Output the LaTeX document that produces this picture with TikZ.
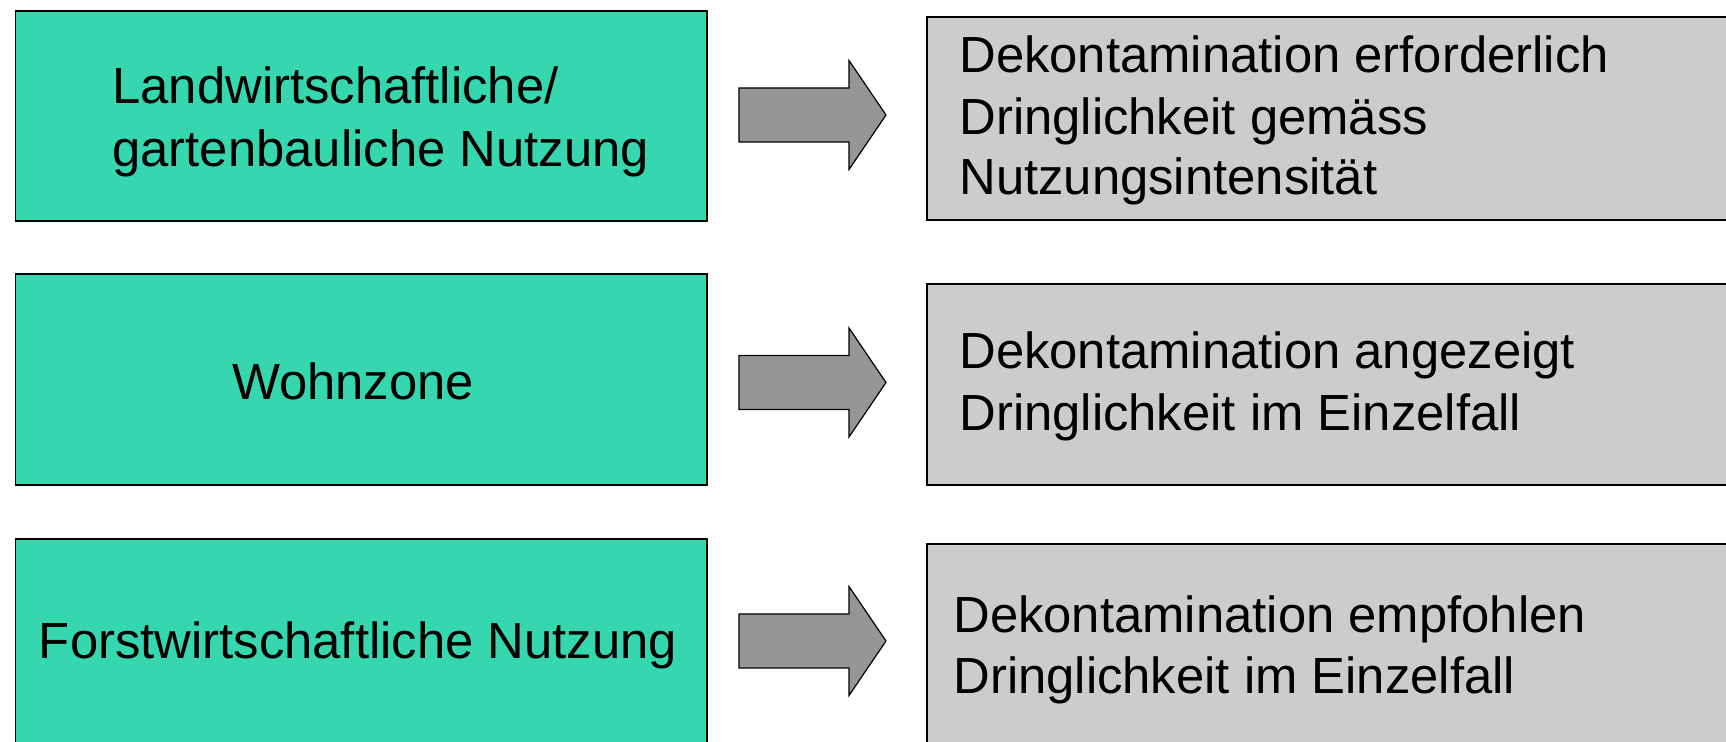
\documentclass[tikz,border=0pt]{standalone}
\usepackage{fontspec}
\setmainfont{Liberation Sans}
\definecolor{boxgreen}{RGB}{54,215,174}
\definecolor{boxgray}{RGB}{204,204,204}
\definecolor{arrowgray}{RGB}{150,150,150}
\tikzset{
  greenbox/.style={draw=black, line width=0.9pt, fill=boxgreen, rectangle, inner sep=0pt, anchor=north west},
  graybox/.style={draw=black, line width=0.9pt, fill=boxgray, rectangle, inner sep=0pt, anchor=north west},
  blockarrow/.style={draw=black, line width=0.6pt, fill=arrowgray, line join=miter},
  txt/.style={font=\fontsize{25.4pt}{30.5pt}\selectfont, inner sep=0pt, align=left, text=black}
}
\begin{document}
\begin{tikzpicture}[x=0.5pt,y=-0.5pt]
\useasboundingbox (0,0) rectangle (1726,742);
% green boxes
\node[greenbox, minimum width=345.6pt, minimum height=105.2pt] (g1) at (14.5,10) {};
\node[greenbox, minimum width=345.6pt, minimum height=105.5pt] (g2) at (14.5,273) {};
\node[greenbox, minimum width=345.6pt, minimum height=120pt] (g3) at (14.5,538) {};
% gray boxes
\node[graybox, minimum width=410pt, minimum height=101.3pt] (r1) at (926,16.5) {};
\node[graybox, minimum width=410pt, minimum height=100.5pt] (r2) at (926,283) {};
\node[graybox, minimum width=410pt, minimum height=120pt] (r3) at (926,543) {};
% texts
\node[txt, anchor=base west] (t1a) at (112,104) {Landwirtschaftliche/};
\node[txt, anchor=base west] (t1b) at (112,167) {gartenbauliche Nutzung};
\node[txt, anchor=base] (t2) at (353,400) {Wohnzone};
\node[txt, anchor=base] (t3) at (358,659) {Forstwirtschaftliche Nutzung};
\node[txt, anchor=base west] (s1a) at (959,73) {Dekontamination erforderlich};
\node[txt, anchor=base west] (s1b) at (959,135) {Dringlichkeit gemäss};
\node[txt, anchor=base west] (s1c) at (959,195) {Nutzungsintensität};
\node[txt, anchor=base west] (s2a) at (959,369) {Dekontamination angezeigt};
\node[txt, anchor=base west] (s2b) at (959,431) {Dringlichkeit im Einzelfall};
\node[txt, anchor=base west] (s3a) at (953,633) {Dekontamination empfohlen};
\node[txt, anchor=base west] (s3b) at (953,694) {Dringlichkeit im Einzelfall};
% block arrows
\foreach \c/\n in {115/a1,382.5/a2,641/a3}{
  \draw[blockarrow] (739,\c-27) -- (849,\c-27) -- (849,\c-54.5) -- (886,\c) -- (849,\c+54.5) -- (849,\c+27) -- (739,\c+27) -- cycle;
}
\end{tikzpicture}
\end{document}
